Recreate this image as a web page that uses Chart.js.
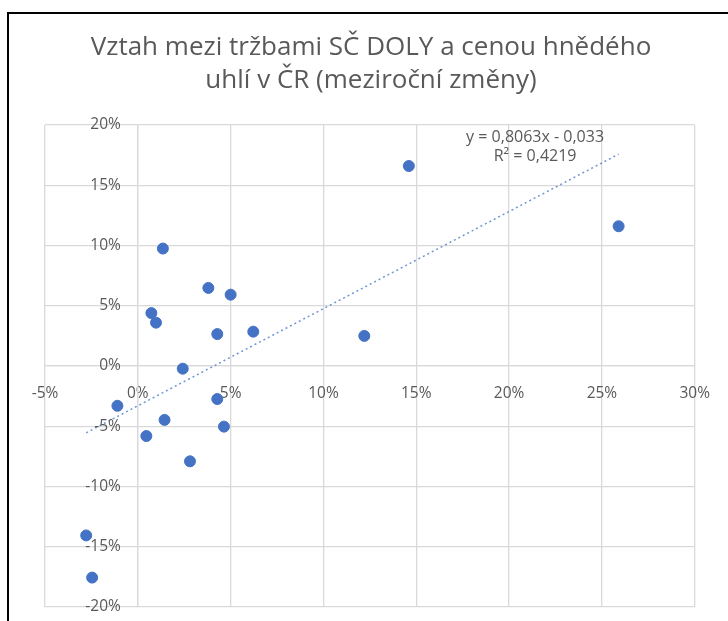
<!DOCTYPE html>
<html>
<head>
<meta charset="utf-8">
<script src="https://cdn.jsdelivr.net/npm/chart.js@4.4.1/dist/chart.umd.min.js"></script>
<style>
  html, body { margin: 0; padding: 0; background: #fff; }
  #wrap { position: relative; width: 728px; height: 621px; }
  #frame { position: absolute; left: 7px; top: 12px; right: -4px; bottom: -4px;
           border-left: 2px solid #000; border-top: 2px solid #000; pointer-events: none; }
  canvas { display: block; }
</style>
</head>
<body>
<div id="wrap">
  <canvas id="c" width="728" height="621"></canvas>
  <div id="frame"></div>
</div>
<script>
// Year-on-year changes (%)
const priceChange   = [1.35, 3.80, 5.00, 0.73, 0.98, 4.28, 6.22, 2.42, 4.28, -1.10, 1.44, 4.64, 0.46, 2.81, 14.6, 25.9, 12.2, -2.78, -2.46];
const revenueChange = [9.75, 6.48, 5.92, 4.39, 3.60, 2.65, 2.85, -0.22, -2.74, -3.30, -4.47, -5.03, -5.81, -7.91, 16.6, 11.6, 2.5, -14.06, -17.56];

// Linear trendline as shown on the chart
const trendSlope = 0.8063;
const trendIntercept = -0.033;
const trendLabels = ['y = 0,8063x - 0,033', 'R\u00B2 = 0,4219'];
const trendLabelPos = { x: 21.4, y: [19.0, 17.4] };

const titleLines = ['Vztah mezi tržbami SČ DOLY a cenou hnědého', 'uhlí v ČR (meziroční změny)'];
const xTicks = [-5, 0, 5, 10, 15, 20, 25, 30];
const yTicks = [-20, -15, -10, -5, 0, 5, 10, 15, 20];

const points = priceChange.map((x, i) => ({ x, y: revenueChange[i] }));
const xMin = Math.min(...priceChange), xMax = Math.max(...priceChange);
const trend = [xMin, xMax].map(x => ({ x, y: (trendSlope * (x / 100) + trendIntercept) * 100 }));

const FONT = "'Open Sans', 'DejaVu Sans', sans-serif";
const TEXT = '#595959';
const GRID = '#d9d9d9';
const TICK_SIZE = 15.5;

const trendLabelPlugin = {
  id: 'trendLabel',
  afterDatasetsDraw(chart) {
    const { ctx, scales } = chart;
    ctx.save();
    ctx.font = '16px ' + FONT;
    ctx.fillStyle = TEXT;
    ctx.textAlign = 'center';
    ctx.textBaseline = 'middle';
    trendLabels.forEach((t, i) => {
      ctx.fillText(t, scales.x.getPixelForValue(trendLabelPos.x), scales.y.getPixelForValue(trendLabelPos.y[i]));
    });
    ctx.restore();
  }
};

const yLabelPlugin = {
  id: 'yLabels',
  afterDraw(chart) {
    const { ctx, scales } = chart;
    const ys = scales.y;
    const x0 = scales.x.getPixelForValue(0);
    ctx.save();
    ctx.font = TICK_SIZE + 'px ' + FONT;
    ctx.fillStyle = TEXT;
    ctx.textAlign = 'right';
    ctx.textBaseline = 'middle';
    ys.ticks.forEach(t => {
      ctx.fillText(t.value + '%', x0 - 17, ys.getPixelForValue(t.value));
    });
    ctx.restore();
  }
};

new Chart(document.getElementById('c'), {
  type: 'scatter',
  data: {
    datasets: [
      {
        label: 'data',
        data: points,
        backgroundColor: '#4472C4',
        borderColor: '#4472C4',
        pointRadius: 5.5,
        pointHoverRadius: 5.5,
        order: 1
      },
      {
        label: 'trend',
        type: 'line',
        data: trend,
        borderColor: 'rgba(68,114,196,0.75)',
        borderWidth: 1.5,
        borderDash: [2, 3],
        pointRadius: 0,
        fill: false,
        order: 2
      }
    ]
  },
  options: {
    responsive: false,
    animation: false,
    events: [],
    layout: { padding: { left: 45, right: 31, top: 0, bottom: 14 } },
    plugins: {
      legend: { display: false },
      tooltip: { enabled: false },
      title: {
        display: true,
        text: titleLines,
        color: TEXT,
        font: { family: FONT, size: 26, weight: 'normal', lineHeight: 1.27 },
        padding: { top: 31, bottom: 28 }
      }
    },
    scales: {
      x: {
        type: 'linear',
        position: { y: 0 },
        min: -5, max: 30,
        afterBuildTicks: s => { s.ticks = xTicks.map(v => ({ value: v })); },
        grid: { color: GRID, lineWidth: 1.3, drawTicks: false },
        border: { display: true, color: GRID, width: 1.3 },
        ticks: {
          color: TEXT,
          font: { family: FONT, size: TICK_SIZE },
          padding: 18,
          maxRotation: 0,
          callback: v => v + '%'
        }
      },
      y: {
        type: 'linear',
        position: { x: 0 },
        min: -20, max: 20,
        afterBuildTicks: s => { s.ticks = yTicks.map(v => ({ value: v })); },
        grid: { color: GRID, lineWidth: 1.3, drawTicks: false },
        border: { display: true, color: GRID, width: 1.3 },
        ticks: { display: false }
      }
    }
  },
  plugins: [trendLabelPlugin, yLabelPlugin]
});
</script>
</body>
</html>
